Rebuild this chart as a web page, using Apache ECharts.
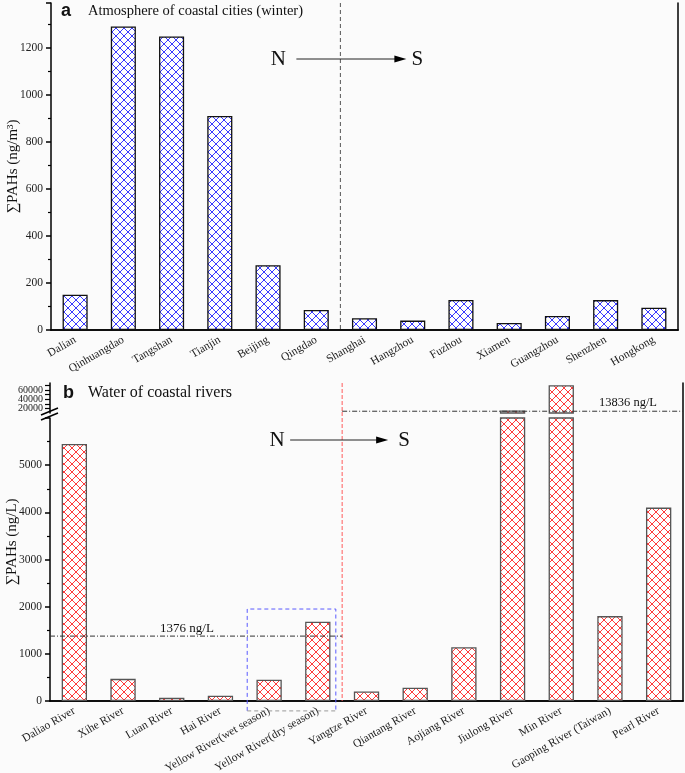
<!DOCTYPE html>
<html><head><meta charset="utf-8">
<script src="https://cdn.jsdelivr.net/npm/echarts@6/dist/echarts.min.js"></script>
<style>html,body{margin:0;padding:0;background:#fbfbfb}#c{width:685px;height:773px}</style>
</head><body><div id="c"></div>
<script>
// ---- data ----
const cities = ['Dalian','Qinhuangdao','Tangshan','Tianjin','Beijing','Qingdao','Shanghai','Hangzhou','Fuzhou','Xiamen','Guangzhou','Shenzhen','Hongkong'];
const cityPAHs = [150,1290,1248,910,275,85,50,40,128,30,60,127,95];
const rivers = ['Daliao River','Xihe River','Luan River','Hai River','Yellow River(wet season)','Yellow River(dry season)','Yangtze River','Qiantang River','Aojiang River','Jiulong River','Min River','Gaoping River (Taiwan)','Pearl River'];
const riverPAHs = [5450,470,70,110,450,1680,200,280,1140,15500,70000,1800,4100];
const northMean = 1376;
const southMean = 13836;
const upperTickLabels = [20000,40000,60000];
const lastNorthIndex = 5;

// ---- styling helpers ----
const SERIF = '"Liberation Serif","Times New Roman",serif';
function hatch(color){
  const c = document.createElement('canvas'); c.width = 8; c.height = 8;
  const g = c.getContext('2d');
  g.fillStyle = '#ffffff'; g.fillRect(0,0,8,8);
  g.strokeStyle = color; g.lineWidth = 1;
  g.beginPath();
  g.moveTo(-1,-1); g.lineTo(9,9);
  g.moveTo(-1,9); g.lineTo(9,-1);
  g.stroke();
  return {image: c, repeat: 'repeat'};
}
const blueHatch = hatch('#3a3aff');
const redHatch = hatch('#ff3b3b');

const upperMin = 10000, upperMax = 75000;
const upperData = riverPAHs.map(v => v > upperMin ? v : '-');

const axisLineStyle = {lineStyle: {color: '#000', width: 1.5}};
const catLabel = {rotate: 30, interval: 0, fontFamily: SERIF, fontSize: 11.5, color: '#222', margin: 9};
const valLabel = {fontFamily: SERIF, fontSize: 11.5, color: '#222', margin: 8, formatter: v => String(v)};
const nameStyle = {fontFamily:SERIF, fontSize:15, color:'#111'};

function arrow(dx, y, x0, x1, headLen, nOff, sOff){
  return [
    {type:'text', x: dx + nOff, y: y, style:{text:'N', font:'21px ' + SERIF, fill:'#111', align:'center', verticalAlign:'middle'}},
    {type:'line', shape:{x1: dx + x0, y1: y, x2: dx + x1 - headLen + 1, y2: y}, style:{stroke:'#222', lineWidth:1}},
    {type:'polygon', shape:{points:[[dx + x1, y],[dx + x1 - headLen, y - 3.5],[dx + x1 - headLen, y + 3.5]]}, style:{fill:'#000'}},
    {type:'text', x: dx + sOff, y: y, style:{text:'S', font:'21px ' + SERIF, fill:'#111', align:'center', verticalAlign:'middle'}}
  ];
}

const gridBase = {containLabel:false, outerBoundsMode:'none'};
const option = {
  backgroundColor: '#fbfbfb',
  animation: false,
  title: [
    {text:'a', left: 61, top: 2, padding: 0, textStyle:{fontFamily:'"Liberation Sans",Arial,sans-serif', fontWeight:'bold', fontSize:18, color:'#111'}},
    {text:'Atmosphere of coastal cities (winter)', left: 88, top: 4, padding: 0, textStyle:{fontFamily: SERIF, fontWeight:'normal', fontSize:14.5, color:'#111'}},
    {text:'b', left: 63, top: 384, padding: 0, textStyle:{fontFamily:'"Liberation Sans",Arial,sans-serif', fontWeight:'bold', fontSize:18, color:'#111'}},
    {text:'Water of coastal rivers', left: 88, top: 385, padding: 0, textStyle:{fontFamily: SERIF, fontWeight:'normal', fontSize:16, color:'#111'}}
  ],
  grid: [
    Object.assign({left: 51, right: 7, top: 3, height: 327}, gridBase),
    Object.assign({left: 50, right: 2, top: 383, height: 30}, gridBase),
    Object.assign({left: 50, right: 2, top: 418, height: 283}, gridBase),
    Object.assign({left: 50, right: 2, top: 383, height: 318}, gridBase)
  ],
  xAxis: [
    {gridIndex:0, type:'category', data: cities, position:'bottom', axisLine: axisLineStyle,
     axisTick:{alignWithLabel:true, length:6, lineStyle:{color:'#000', width:1.5}}, axisLabel: catLabel},
    {gridIndex:0, type:'category', data: cities, position:'top', axisLine: axisLineStyle, axisTick:{show:false}, axisLabel:{show:false}},
    {gridIndex:1, type:'category', data: rivers, show:false},
    {gridIndex:2, type:'category', data: rivers, position:'bottom', axisLine: axisLineStyle,
     axisTick:{alignWithLabel:true, length:6, lineStyle:{color:'#000', width:1.5}}, axisLabel: catLabel},
    {gridIndex:3, type:'category', data: rivers, position:'top', axisLine: axisLineStyle, axisTick:{show:false}, axisLabel:{show:false}}
  ],
  yAxis: [
    {gridIndex:0, type:'value', min:0, max:1390, interval:200, position:'left',
     name:'∑PAHs (ng/m³)', nameLocation:'middle', nameGap:30, nameMoveOverlap:false, nameTextStyle:nameStyle,
     axisLine:{show:true, lineStyle:{color:'#000', width:1.5}},
     axisTick:{show:true, inside:false, length:5, lineStyle:{color:'#000', width:1.5}},
     minorTick:{show:true, splitNumber:2, length:3, lineStyle:{color:'#000', width:1.2}},
     splitLine:{show:false}, axisLabel:Object.assign({showMaxLabel:false}, valLabel)},
    {gridIndex:0, type:'value', min:0, max:1, position:'right', axisLine:{show:true, lineStyle:{color:'#000', width:1.5}},
     axisTick:{show:false}, axisLabel:{show:false}, splitLine:{show:false}},
    {gridIndex:1, type:'value', min: upperMin, max: upperMax, interval:10000, position:'left',
     axisLine:{show:true, lineStyle:{color:'#000', width:1.5}},
     axisTick:{show:true, length:5, lineStyle:{color:'#000', width:1.2}},
     splitLine:{show:false},
     axisLabel:{fontFamily:SERIF, fontSize:10, color:'#222', margin:7, showMaxLabel:false, showMinLabel:false,
       formatter: v => upperTickLabels.indexOf(v) >= 0 ? String(v) : ''}},
    {gridIndex:2, type:'value', min:0, max:6000, interval:1000, position:'left',
     axisLine:{show:true, lineStyle:{color:'#000', width:1.5}},
     axisTick:{show:true, length:5, lineStyle:{color:'#000', width:1.5}},
     minorTick:{show:true, splitNumber:2, length:3, lineStyle:{color:'#000', width:1.2}},
     splitLine:{show:false}, axisLabel:Object.assign({showMaxLabel:false}, valLabel)},
    {gridIndex:3, type:'value', min:0, max:1, position:'right', axisLine:{show:true, lineStyle:{color:'#000', width:1.5}},
     axisTick:{show:false}, axisLabel:{show:false}, splitLine:{show:false}},
    {gridIndex:3, type:'value', min:0, max:1, position:'left', axisLine:{show:false},
     axisTick:{show:false}, axisLabel:{show:false}, splitLine:{show:false},
     name:'∑PAHs (ng/L)', nameLocation:'middle', nameGap:30, nameMoveOverlap:false, nameTextStyle:nameStyle}
  ],
  series: [
    {type:'bar', xAxisIndex:0, yAxisIndex:0, data: cityPAHs, barWidth:'52%',
     itemStyle:{color: blueHatch, borderColor:'#111', borderWidth:1.3}},
    {type:'bar', xAxisIndex:2, yAxisIndex:2, data: upperData, barWidth:'52%',
     itemStyle:{color: redHatch, borderColor:'#555', borderWidth:1.3}},
    {type:'bar', xAxisIndex:3, yAxisIndex:3, data: riverPAHs, barWidth:'52%', clip:true,
     itemStyle:{color: redHatch, borderColor:'#555', borderWidth:1.3}},
    // annotations, panel a
    {type:'custom', xAxisIndex:0, yAxisIndex:0, data:[[0,0]], clip:false, silent:true, z:5,
     renderItem(params, api){
       const cs = params.coordSys;
       const band = api.size([1,0])[0];
       const dx = api.coord([lastNorthIndex,0])[0] + band/2;
       return {type:'group', children:[
         {type:'line', shape:{x1:dx, y1:cs.y, x2:dx, y2:cs.y+cs.height}, style:{stroke:'#555', lineWidth:1, lineDash:[4,3]}}
       ].concat(arrow(dx, cs.y + 56, -44, 66, 12, -62, 77))};
     }},
    // annotations, panel b upper segment
    {type:'custom', xAxisIndex:2, yAxisIndex:2, data:[[0,southMean]], clip:false, silent:true, z:5,
     renderItem(params, api){
       const cs = params.coordSys;
       const band = api.size([1,0])[0];
       const dx = api.coord([lastNorthIndex,0])[0] + band/2;
       const y = api.coord([0, api.value(1)])[1];
       return {type:'group', children:[
         {type:'line', shape:{x1:dx, y1:cs.y, x2:dx, y2:cs.y+cs.height}, style:{stroke:'#ff5a5a', lineWidth:1, lineDash:[4,2]}},
         {type:'line', shape:{x1:dx, y1:y, x2:cs.x+cs.width, y2:y}, style:{stroke:'#333', lineWidth:1, lineDash:[5,2,1,2]}},
         {type:'text', x: cs.x + cs.width - 55, y: y - 2, style:{text: southMean + ' ng/L', font:'12.5px ' + SERIF, fill:'#111', align:'center', verticalAlign:'bottom'}}
       ]};
     }},
    // annotations, panel b lower segment
    {type:'custom', xAxisIndex:3, yAxisIndex:3, data:[[0,northMean]], clip:false, silent:true, z:5,
     renderItem(params, api){
       const cs = params.coordSys;
       const band = api.size([1,0])[0];
       const dx = api.coord([lastNorthIndex,0])[0] + band/2;
       const y = api.coord([0, api.value(1)])[1];
       const bl = api.coord([4,0])[0] - band*0.45;
       const br = api.coord([5,0])[0] + band*0.37;
       const bt = api.coord([0,1950])[1];
       const bb = api.coord([0,-210])[1];
       return {type:'group', children:[
         {type:'line', shape:{x1:dx, y1:cs.y-6, x2:dx, y2:cs.y+cs.height}, style:{stroke:'#ff5a5a', lineWidth:1, lineDash:[4,2]}},
         {type:'line', shape:{x1:cs.x, y1:y, x2:dx, y2:y}, style:{stroke:'#333', lineWidth:1, lineDash:[5,2,1,2]}},
         {type:'text', x: cs.x + 137, y: y - 1, style:{text: northMean + ' ng/L', font:'13px ' + SERIF, fill:'#111', align:'center', verticalAlign:'bottom'}},
         {type:'polyline', shape:{points:[[bl,bb],[bl,bt],[br,bt],[br,bb]]}, style:{stroke:'#5a5aff', lineWidth:1, lineDash:[4,3], fill:null}},
         {type:'line', shape:{x1:bl, y1:bb, x2:br, y2:bb}, style:{stroke:'#999', lineWidth:1, lineDash:[4,3]}},
         {type:'line', shape:{x1:cs.x-9, y1:cs.y+2, x2:cs.x+8, y2:cs.y-5}, style:{stroke:'#000', lineWidth:1.5}},
         {type:'line', shape:{x1:cs.x-9, y1:cs.y-3, x2:cs.x+8, y2:cs.y-10}, style:{stroke:'#000', lineWidth:1.5}}
       ].concat(arrow(dx, cs.y + 22, -52, 46, 12, -65, 62))};
     }}
  ]
};
const chart = echarts.init(document.getElementById('c'), null, {renderer:'canvas'});
chart.setOption(option);
</script>
</body></html>
